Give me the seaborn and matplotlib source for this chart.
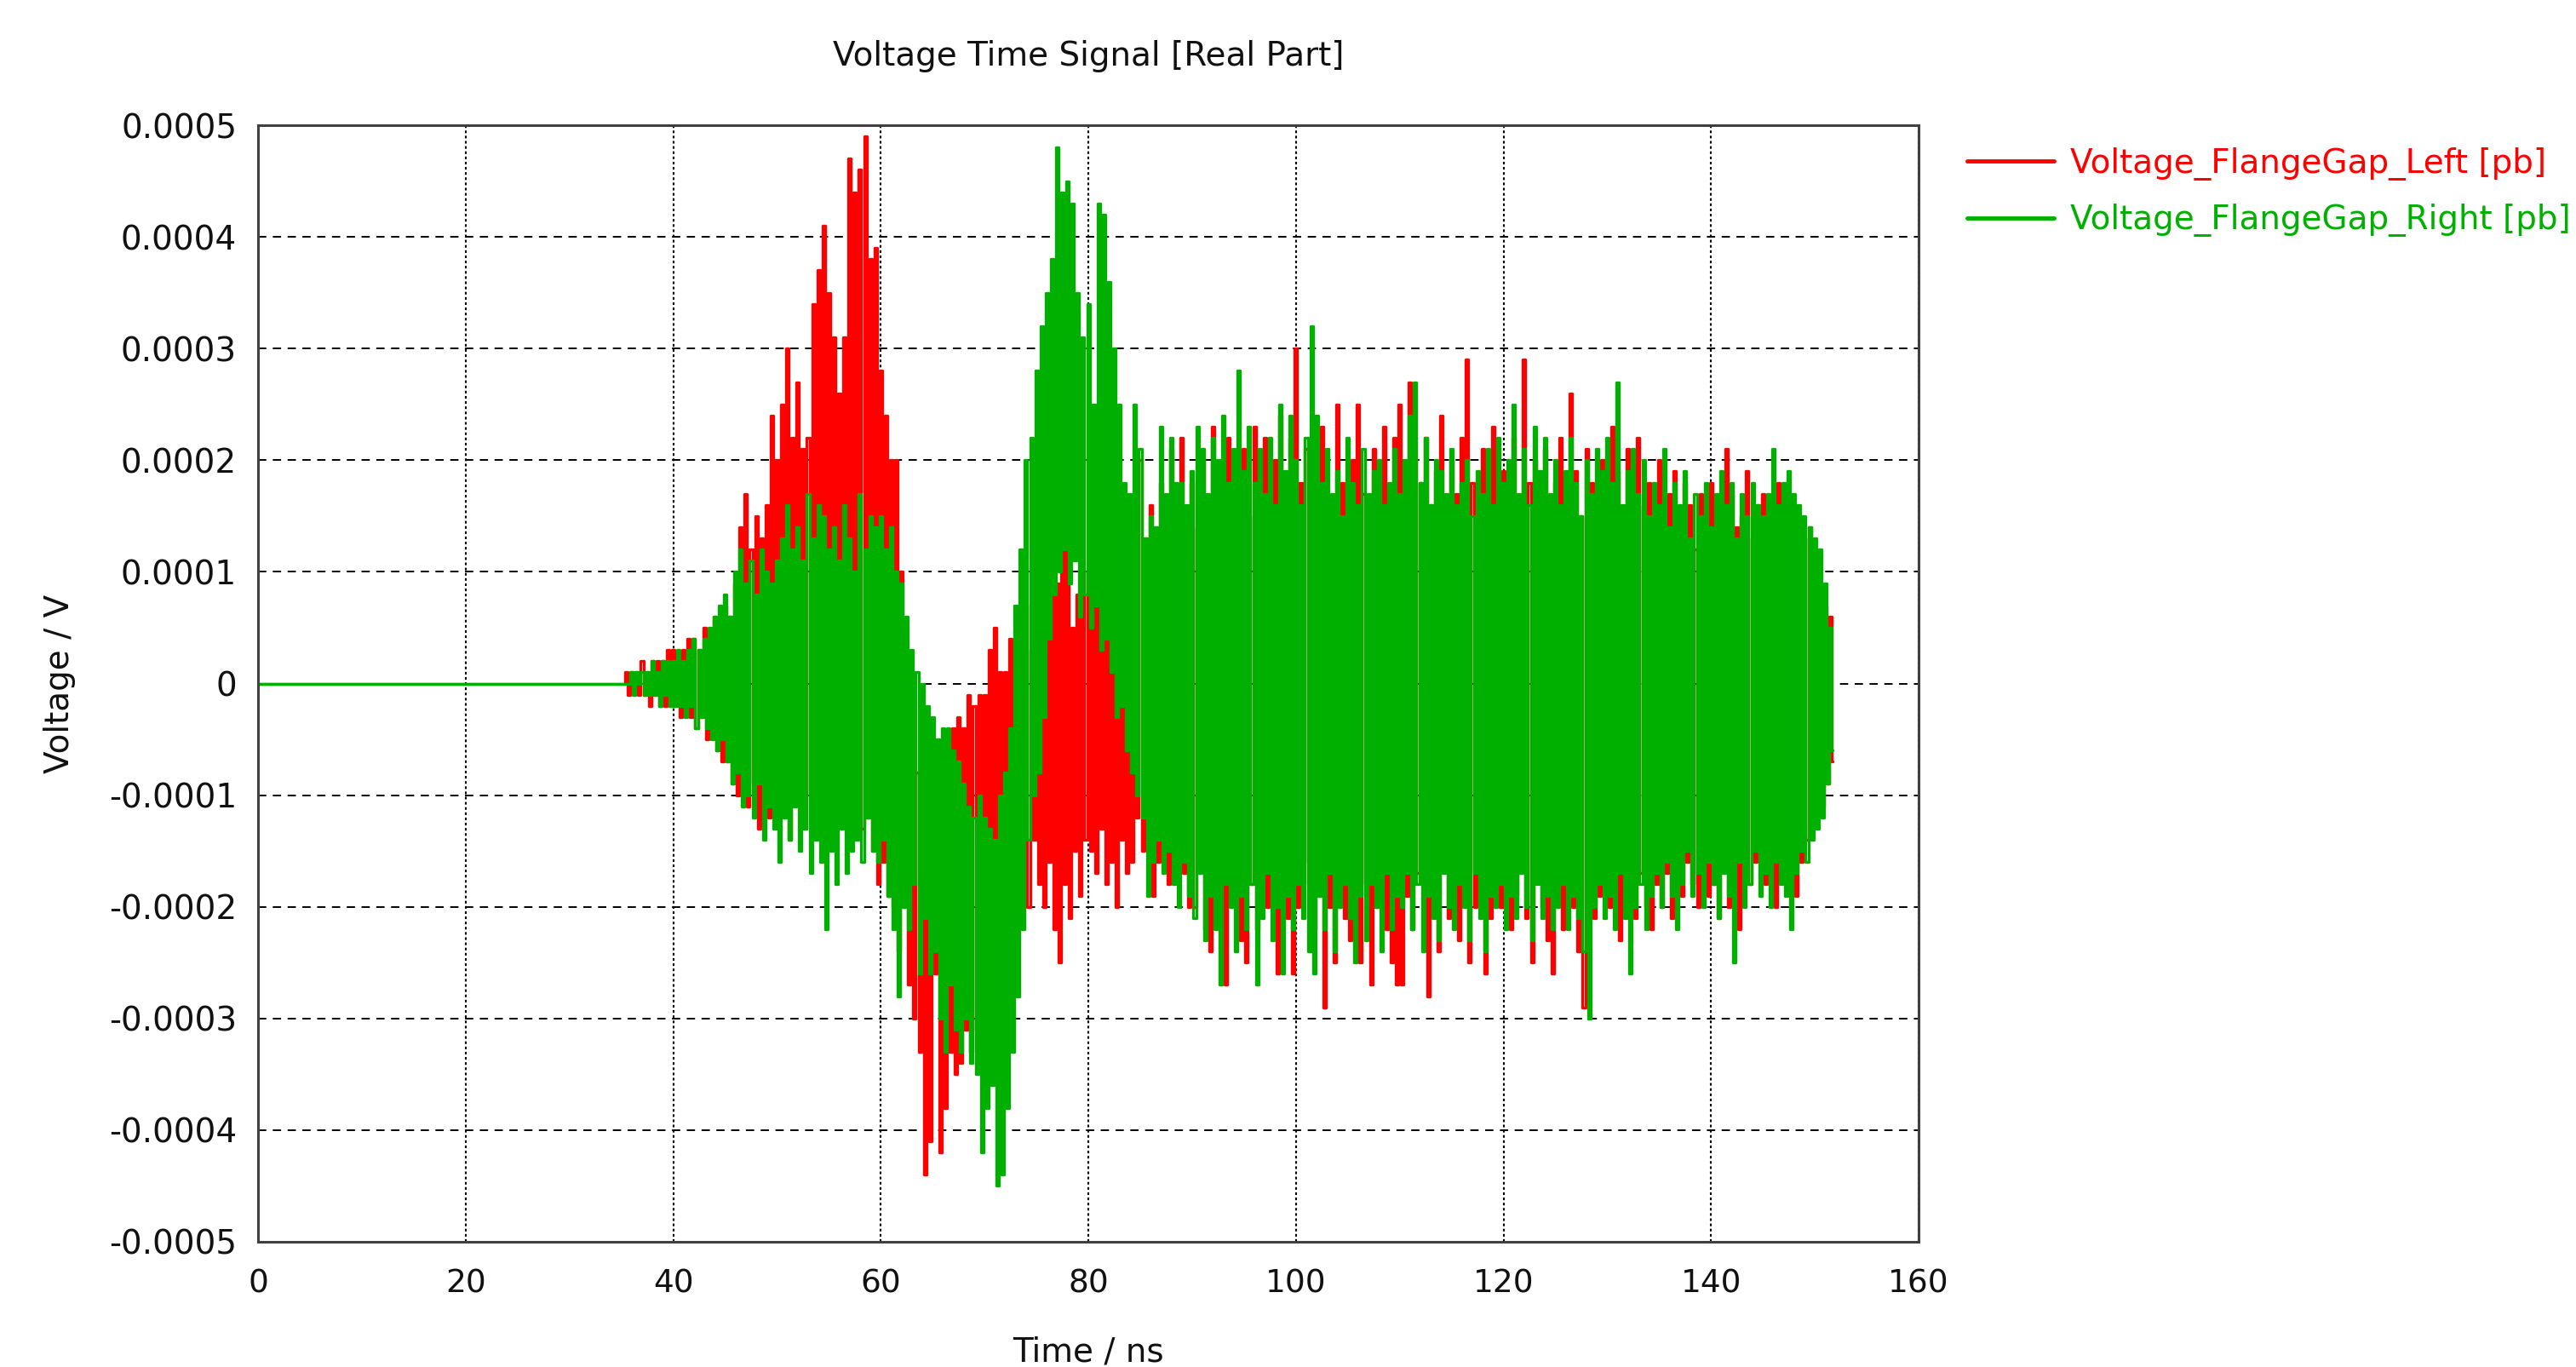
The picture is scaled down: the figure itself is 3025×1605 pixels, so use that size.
import numpy as np
import pandas as pd
import matplotlib
matplotlib.use("Agg")
import matplotlib.pyplot as plt
import seaborn as sns

# ---- data (voltages in units of 1e-5 V) ----
UNIT = 1e-5

# quiet part before the pulse arrives
lead_time = [0.0, 34.75]
lead_left = [0, 0]
lead_right = [0, 0]

# oscillation: one upper and one lower extreme per 0.5 ns, from 35 ns on
peak_time = np.arange(35.0, 151.6, 0.5)

left_hi = [
    0, 1, 1, 1, 2, 1, 2, 2, 2, 3,
    3, 2, 3, 4, 4, 3, 5, 4, 6, 5,
    7, 6, 9, 14, 17, 12, 15, 13, 16, 24,
    20, 25, 30, 22, 27, 21, 22, 34, 37, 41,
    35, 31, 26, 31, 47, 44, 46, 49, 38, 39,
    28, 24, 20, 20, 10, 0, -5, -8, -10, -12,
    -12, -8, -6, -5, -4, -3, -4, -1, -2, -1,
    -1, 3, 5, 1, 1, 4, 2, 0, 3, 7,
    9, 8, 11, 10, 9, 12, 12, 5, 8, 10,
    10, 8, 10, 9, 6, 8, 9, 12, 10, 14,
    20, 13, 16, 14, 18, 15, 21, 16, 22, 15,
    18, 14, 20, 16, 23, 13, 19, 22, 17, 14,
    21, 15, 23, 18, 22, 16, 20, 24, 17, 22,
    30, 18, 21, 14, 19, 23, 17, 16, 25, 18,
    15, 20, 25, 17, 14, 21, 19, 23, 16, 22,
    25, 17, 27, 20, 18, 22, 16, 19, 24, 15,
    20, 17, 22, 29, 18, 16, 21, 19, 23, 17,
    19, 15, 22, 16, 29, 18, 20, 17, 21, 15,
    18, 22, 16, 26, 19, 15, 21, 18, 17, 20,
    16, 23, 19, 15, 21, 17, 22, 16, 18, 14,
    20, 15, 17, 19, 14, 18, 16, 12, 17, 15,
    18, 13, 16, 21, 17, 14, 15, 19, 13, 16,
    17, 13, 15, 18, 14, 16, 12, 15, 13, 14,
    11, 9, 7, 6,
]
left_lo = [
    0, -1, 0, -1, -1, -2, -1, -2, -2, -2,
    -2, -3, -2, -3, -4, -3, -5, -4, -6, -7,
    -7, -9, -10, -8, -11, -9, -13, -10, -12, -11,
    -12, -10, -14, -9, -11, -13, -10, -12, -11, -9,
    -10, -8, -12, -9, -11, -10, -13, -12, -15, -18,
    -16, -19, -20, -24, -17, -27, -30, -33, -44, -41,
    -26, -42, -38, -33, -35, -34, -31, -33, -31, -27,
    -24, -20, -16, -18, -15, -19, -22, -17, -20, -14,
    -18, -20, -16, -22, -25, -18, -21, -15, -19, -14,
    -15, -17, -13, -18, -16, -20, -14, -17, -16, -12,
    -15, -12, -19, -16, -14, -18, -16, -15, -17, -20,
    -20, -16, -22, -24, -18, -21, -27, -17, -19, -23,
    -25, -18, -22, -15, -20, -17, -26, -19, -21, -26,
    -20, -16, -18, -22, -17, -29, -20, -25, -18, -21,
    -23, -19, -25, -18, -27, -20, -17, -22, -25, -27,
    -27, -19, -22, -17, -18, -28, -20, -24, -16, -21,
    -19, -23, -17, -25, -20, -18, -26, -21, -17, -20,
    -18, -22, -19, -16, -21, -25, -17, -20, -23, -26,
    -19, -22, -17, -20, -24, -29, -18, -21, -19, -17,
    -20, -18, -23, -16, -19, -21, -17, -20, -22, -18,
    -20, -17, -21, -15, -19, -16, -18, -20, -17, -19,
    -18, -21, -16, -20, -19, -22, -17, -18, -16, -15,
    -18, -16, -20, -14, -17, -15, -19, -16, -14, -13,
    -12, -11, -9, -7,
]
right_hi = [
    0, 0, 1, 1, 1, 1, 2, 1, 2, 2,
    2, 3, 2, 3, 4, 3, 4, 5, 6, 7,
    8, 6, 10, 12, 9, 11, 8, 12, 10, 9,
    11, 13, 16, 12, 14, 11, 17, 13, 16, 15,
    12, 14, 11, 16, 13, 10, 17, 12, 15, 14,
    15, 12, 14, 10, 9, 6, 3, 1, 0, -2,
    -3, -5, -4, -4, -6, -7, -9, -11, -12, -10,
    -12, -13, -14, -10, -8, -4, 7, 12, 20, 22,
    28, 32, 35, 38, 48, 44, 45, 43, 35, 31,
    34, 25, 43, 42, 36, 30, 25, 18, 17, 25,
    21, 13, 15, 14, 23, 17, 22, 18, 18, 16,
    19, 23, 21, 17, 22, 20, 24, 18, 21, 28,
    19, 23, 18, 21, 17, 22, 16, 25, 19, 24,
    20, 16, 22, 32, 24, 18, 21, 17, 19, 15,
    22, 18, 16, 21, 17, 19, 20, 16, 18, 21,
    17, 20, 24, 27, 18, 22, 16, 20, 19, 17,
    21, 16, 18, 20, 15, 19, 17, 21, 16, 22,
    18, 20, 25, 17, 21, 16, 23, 19, 22, 17,
    20, 16, 19, 22, 18, 15, 20, 17, 21, 19,
    22, 18, 27, 16, 19, 21, 17, 20, 15, 18,
    16, 21, 14, 18, 16, 19, 13, 17, 15, 18,
    14, 17, 19, 16, 18, 13, 17, 15, 18, 16,
    15, 17, 21, 16, 18, 19, 17, 16, 15, 14,
    13, 12, 9, 5,
]
right_lo = [
    0, 0, -1, 0, -1, -1, -1, -2, -1, -2,
    -2, -2, -3, -2, -4, -3, -4, -5, -6, -5,
    -7, -9, -8, -11, -10, -12, -9, -14, -11, -13,
    -16, -12, -14, -11, -15, -13, -17, -14, -16, -22,
    -15, -18, -13, -17, -15, -14, -16, -12, -15, -16,
    -14, -19, -22, -28, -20, -22, -18, -26, -21, -26,
    -24, -30, -33, -27, -31, -33, -30, -34, -35, -42,
    -38, -36, -45, -44, -38, -33, -28, -22, -14, -10,
    -8, -3, 4, 8, 10, 12, 9, 11, 6, 8,
    5, 7, 3, 4, 1, -3, -2, -6, -8, -10,
    -12, -19, -16, -14, -17, -15, -18, -20, -16, -19,
    -21, -17, -23, -19, -22, -27, -18, -20, -24, -19,
    -22, -18, -27, -21, -17, -23, -20, -26, -19, -22,
    -18, -21, -24, -26, -19, -22, -17, -24, -20, -18,
    -21, -25, -19, -23, -18, -20, -24, -17, -22, -19,
    -20, -17, -22, -18, -24, -19, -21, -23, -17, -20,
    -22, -18, -20, -23, -17, -21, -24, -19, -20, -18,
    -22, -19, -21, -17, -20, -23, -18, -21, -19, -22,
    -20, -18, -22, -19, -21, -24, -30, -20, -18, -21,
    -19, -22, -17, -21, -26, -20, -18, -22, -19, -17,
    -20, -16, -19, -22, -18, -15, -19, -17, -20, -16,
    -18, -21, -17, -19, -25, -16, -20, -18, -15, -19,
    -17, -20, -16, -18, -19, -22, -17, -15, -16, -14,
    -13, -12, -9, -6,
]

series_names = ["Voltage_FlangeGap_Left [pb]", "Voltage_FlangeGap_Right [pb]"]
series_colors = ["#ff0000", "#00b000"]

x_ticks = [0, 20, 40, 60, 80, 100, 120, 140, 160]
y_ticks = [-5e-4, -4e-4, -3e-4, -2e-4, -1e-4, 0, 1e-4, 2e-4, 3e-4, 4e-4, 5e-4]
y_tick_labels = ["-0.0005", "-0.0004", "-0.0003", "-0.0002", "-0.0001", "0",
                 "0.0001", "0.0002", "0.0003", "0.0004", "0.0005"]

for arr in (left_hi, left_lo, right_hi, right_lo):
    assert len(arr) == len(peak_time), len(arr)


def build(lead_v, hi, lo):
    # upper extreme at t, lower extreme a quarter ns later
    t = list(lead_time)
    v = list(lead_v)
    for tt, a, b in zip(peak_time, hi, lo):
        t += [tt, tt + 0.25]
        v += [a, b]
    return np.array(t), np.array(v) * UNIT


frames = []
for name, lead_v, hi, lo in [(series_names[0], lead_left, left_hi, left_lo),
                             (series_names[1], lead_right, right_hi, right_lo)]:
    t, v = build(lead_v, hi, lo)
    frames.append(pd.DataFrame({"time": t, "voltage": v, "signal": name}))
df = pd.concat(frames, ignore_index=True)

# ---- style ----
sns.set_style("white")
plt.rcParams["font.family"] = ["DejaVu Sans"]
plt.rcParams["lines.scale_dashes"] = False

fig = plt.figure(figsize=(30.25, 16.05), dpi=100)
ax = fig.add_axes([0.1002, 0.0916, 0.6446, 0.8168])

# steps-mid turns each sample into a vertical stroke, like the dense trace
sns.lineplot(data=df, x="time", y="voltage", hue="signal",
             hue_order=series_names, palette=series_colors,
             estimator=None, sort=False, linewidth=2.4, ax=ax, legend=False,
             drawstyle="steps-mid")

ax.set_xlim(0, 160)
ax.set_ylim(-5e-4, 5e-4)
ax.set_xticks(x_ticks)
ax.set_xticklabels([str(x) for x in x_ticks])
ax.set_yticks(y_ticks)
ax.set_yticklabels(y_tick_labels)

ax.grid(axis="x", color="black", linestyle=(0, (2.2, 2.2)), linewidth=1.5)
ax.grid(axis="y", color="black", linestyle=(0, (7, 5.5)), linewidth=1.4)

for sp in ax.spines.values():
    sp.set_color("#404040")
    sp.set_linewidth(2.2)

ax.tick_params(direction="inout", length=16, width=1.5, color="black")
ax.tick_params(axis="x", labelsize=27, pad=15, labelcolor="#111111")
ax.tick_params(axis="y", labelsize=28, pad=10, labelcolor="#111111")

ax.set_title("Voltage Time Signal [Real Part]", fontsize=28, color="#111111",
             y=1.062, pad=0, va="center")
ax.set_xlabel("Time / ns", fontsize=28, color="#111111")
ax.set_ylabel("Voltage / V", fontsize=28, color="#111111")
ax.xaxis.set_label_coords(0.5, -0.084)
ax.yaxis.set_label_coords(-0.11, 0.5)

handles = [plt.Line2D([], [], color=c, linewidth=3.5) for c in series_colors]
leg = ax.legend(handles, series_names, loc="upper left",
                bbox_to_anchor=(1.0215, 0.992), frameon=False,
                fontsize=28, handlelength=2.6, handletextpad=0.5,
                labelspacing=0.7, borderaxespad=0)
for txt, c in zip(leg.get_texts(), series_colors):
    txt.set_color(c)

fig.savefig("out.png", dpi=100)
